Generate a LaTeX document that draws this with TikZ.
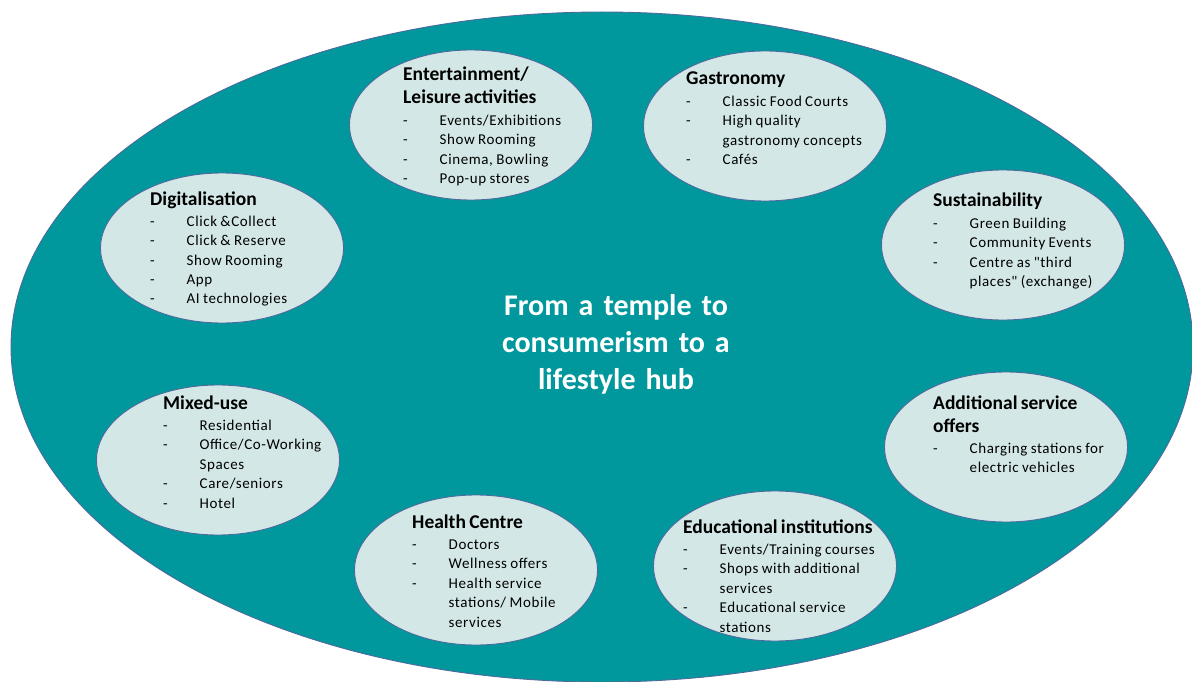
\documentclass[tikz,border=0pt]{standalone}
\usepackage{fontspec}
\setmainfont{Carlito}
\newfontfamily\bodyfam[LetterSpace=4]{Carlito}
\usetikzlibrary{shapes.geometric}

\definecolor{hubteal}{HTML}{00979D}
\definecolor{bubblefill}{HTML}{D3E8E6}
\definecolor{rimblue}{HTML}{4D6A9C}

% text helpers for the bubble contents
\newcommand\bodyfont{\bodyfam\fontsize{15}{19.4}\selectfont}
\newcommand\cardtitle[1]{{\fontsize{19.5}{23}\selectfont\bfseries #1\par}\vspace{2pt}}
\newcommand\carditem[1]{{\bodyfont\makebox[36.5pt][l]{-}#1\par}}
\newcommand\cardmore[1]{{\bodyfont\hspace*{36.5pt}#1\par}}

\tikzset{
  hub/.style={ellipse, draw=rimblue, line width=0.9pt, fill=hubteal,
    minimum width=1182pt, minimum height=670pt, inner sep=0pt},
  bubble/.style={ellipse, draw=rimblue, line width=0.9pt, fill=bubblefill,
    minimum width=243pt, minimum height=150pt, inner sep=0pt},
  card/.style={anchor=base west, inner sep=0pt, text width=230pt, align=left},
  motto/.style={anchor=base, inner sep=0pt, text width=320pt, align=center,
    text=white, font=\fontsize{30}{37}\selectfont\bfseries}
}

\begin{document}
\begin{tikzpicture}[x=1pt, y=-1pt]
\useasboundingbox (0,0) rectangle (1192,682);

\node[hub] (hub) at (602,347) {};

\node[bubble] (ent)  at (471,125) {};
\node[bubble] (gas)  at (765,126) {};
\node[bubble] (sus)  at (1003,245) {};
\node[bubble] (dig)  at (222,248) {};
\node[bubble] (mix)  at (218,460) {};
\node[bubble] (hea)  at (476,570) {};
\node[bubble] (edu)  at (775,566) {};
\node[bubble] (add)  at (1006,447) {};

\node[card] (entT) at (403,81) {%
  \cardtitle{Entertainment/\\Leisure activities}
  \carditem{Events/Exhibitions}
  \carditem{Show Rooming}
  \carditem{Cinema, Bowling}
  \carditem{Pop-up stores}};

\node[card] (gasT) at (686,85) {%
  \cardtitle{Gastronomy}
  \carditem{Classic Food Courts}
  \carditem{High quality}
  \cardmore{gastronomy concepts}
  \carditem{Cafés}};

\node[card] (susT) at (933,207) {%
  \cardtitle{Sustainability}
  \carditem{Green Building}
  \carditem{Community Events}
  \carditem{Centre as "third}
  \cardmore{places" (exchange)}};

\node[card] (digT) at (150,205) {%
  \cardtitle{Digitalisation}
  \carditem{Click \&Collect}
  \carditem{Click \& Reserve}
  \carditem{Show Rooming}
  \carditem{App}
  \carditem{AI technologies}};

\node[card] (mixT) at (163,409) {%
  \cardtitle{Mixed-use}
  \carditem{Residential}
  \carditem{Office/Co-Working}
  \cardmore{Spaces}
  \carditem{Care/seniors}
  \carditem{Hotel}};

\node[card] (heaT) at (412,528) {%
  \cardtitle{Health Centre}
  \carditem{Doctors}
  \carditem{Wellness offers}
  \carditem{Health service}
  \cardmore{stations/ Mobile}
  \cardmore{services}};

\node[card] (eduT) at (683,533) {%
  \cardtitle{Educational institutions}
  \carditem{Events/Training courses}
  \carditem{Shops with additional}
  \cardmore{services}
  \carditem{Educational service}
  \cardmore{stations}};

\node[card] (addT) at (933,409) {%
  \cardtitle{Additional service\\offers}
  \carditem{Charging stations for}
  \cardmore{electric vehicles}};

\node[motto] (mottoT) at (616,315) {From a temple to\\consumerism to a\\lifestyle hub};

\end{tikzpicture}
\end{document}
